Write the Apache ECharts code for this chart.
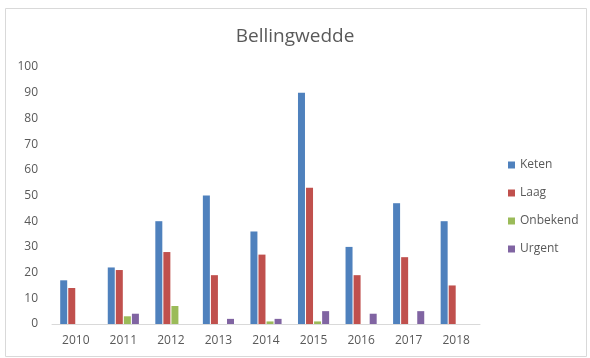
<!DOCTYPE html>
<html>
<head>
<meta charset="utf-8">
<script src="https://cdn.jsdelivr.net/npm/echarts@6/dist/echarts.min.js"></script>
<style>html,body{margin:0;padding:0;background:#fff}#c{width:590px;height:358px}</style>
</head>
<body>
<div id="c"></div>
<script>
var years = ['2010','2011','2012','2013','2014','2015','2016','2017','2018'];
var keten    = [17, 22, 40, 50, 36, 90, 30, 47, 40];
var laag     = [14, 21, 28, 19, 27, 53, 19, 26, 15];
var onbekend = [0, 3, 7, 0, 1, 1, 0, 0, 0];
var urgent   = [0, 4, 0, 2, 2, 5, 4, 5, 0];
var yTicks = [0, 10, 20, 30, 40, 50, 60, 70, 80, 90, 100];

var chart = echarts.init(document.getElementById('c'), null, {renderer: 'canvas'});
var font = 'Open Sans, Liberation Sans, sans-serif';
function bar(name, data, color) {
  return {name: name, type: 'bar', data: data, barWidth: 7, barGap: '15%',
    itemStyle: {color: color}};
}
chart.setOption({
  animation: false,
  textStyle: {fontFamily: font},
  graphic: [{type: 'rect', shape: {x: 5.5, y: 8.5, width: 581, height: 348},
    style: {fill: 'none', stroke: '#d9d9d9', lineWidth: 1}, silent: true}],
  title: {text: 'Bellingwedde', left: 'center', top: 22,
    textStyle: {fontSize: 19, fontWeight: 'normal', color: '#595959', fontFamily: font}},
  legend: {orient: 'vertical', left: 503, top: 153, itemWidth: 7, itemHeight: 7, itemGap: 14,
    icon: 'rect',
    textStyle: {fontSize: 12, color: '#595959', lineHeight: 14, fontFamily: font},
    data: ['Keten', 'Laag', 'Onbekend', 'Urgent']},
  grid: {left: 52, right: 110, top: 67, bottom: 34, containLabel: false},
  xAxis: {type: 'category', data: years,
    axisLine: {lineStyle: {color: '#d9d9d9'}}, axisTick: {show: false},
    axisLabel: {color: '#595959', fontSize: 12, margin: 11, fontFamily: font}},
  yAxis: {type: 'value', min: yTicks[0], max: yTicks[yTicks.length - 1], interval: 10,
    splitLine: {show: false}, axisLine: {show: false}, axisTick: {show: false},
    axisLabel: {color: '#595959', fontSize: 12, margin: 14, fontFamily: font}},
  series: [
    bar('Keten', keten, '#4F81BD'),
    bar('Laag', laag, '#C0504D'),
    bar('Onbekend', onbekend, '#9BBB59'),
    bar('Urgent', urgent, '#8064A2')
  ]
});
</script>
</body>
</html>
